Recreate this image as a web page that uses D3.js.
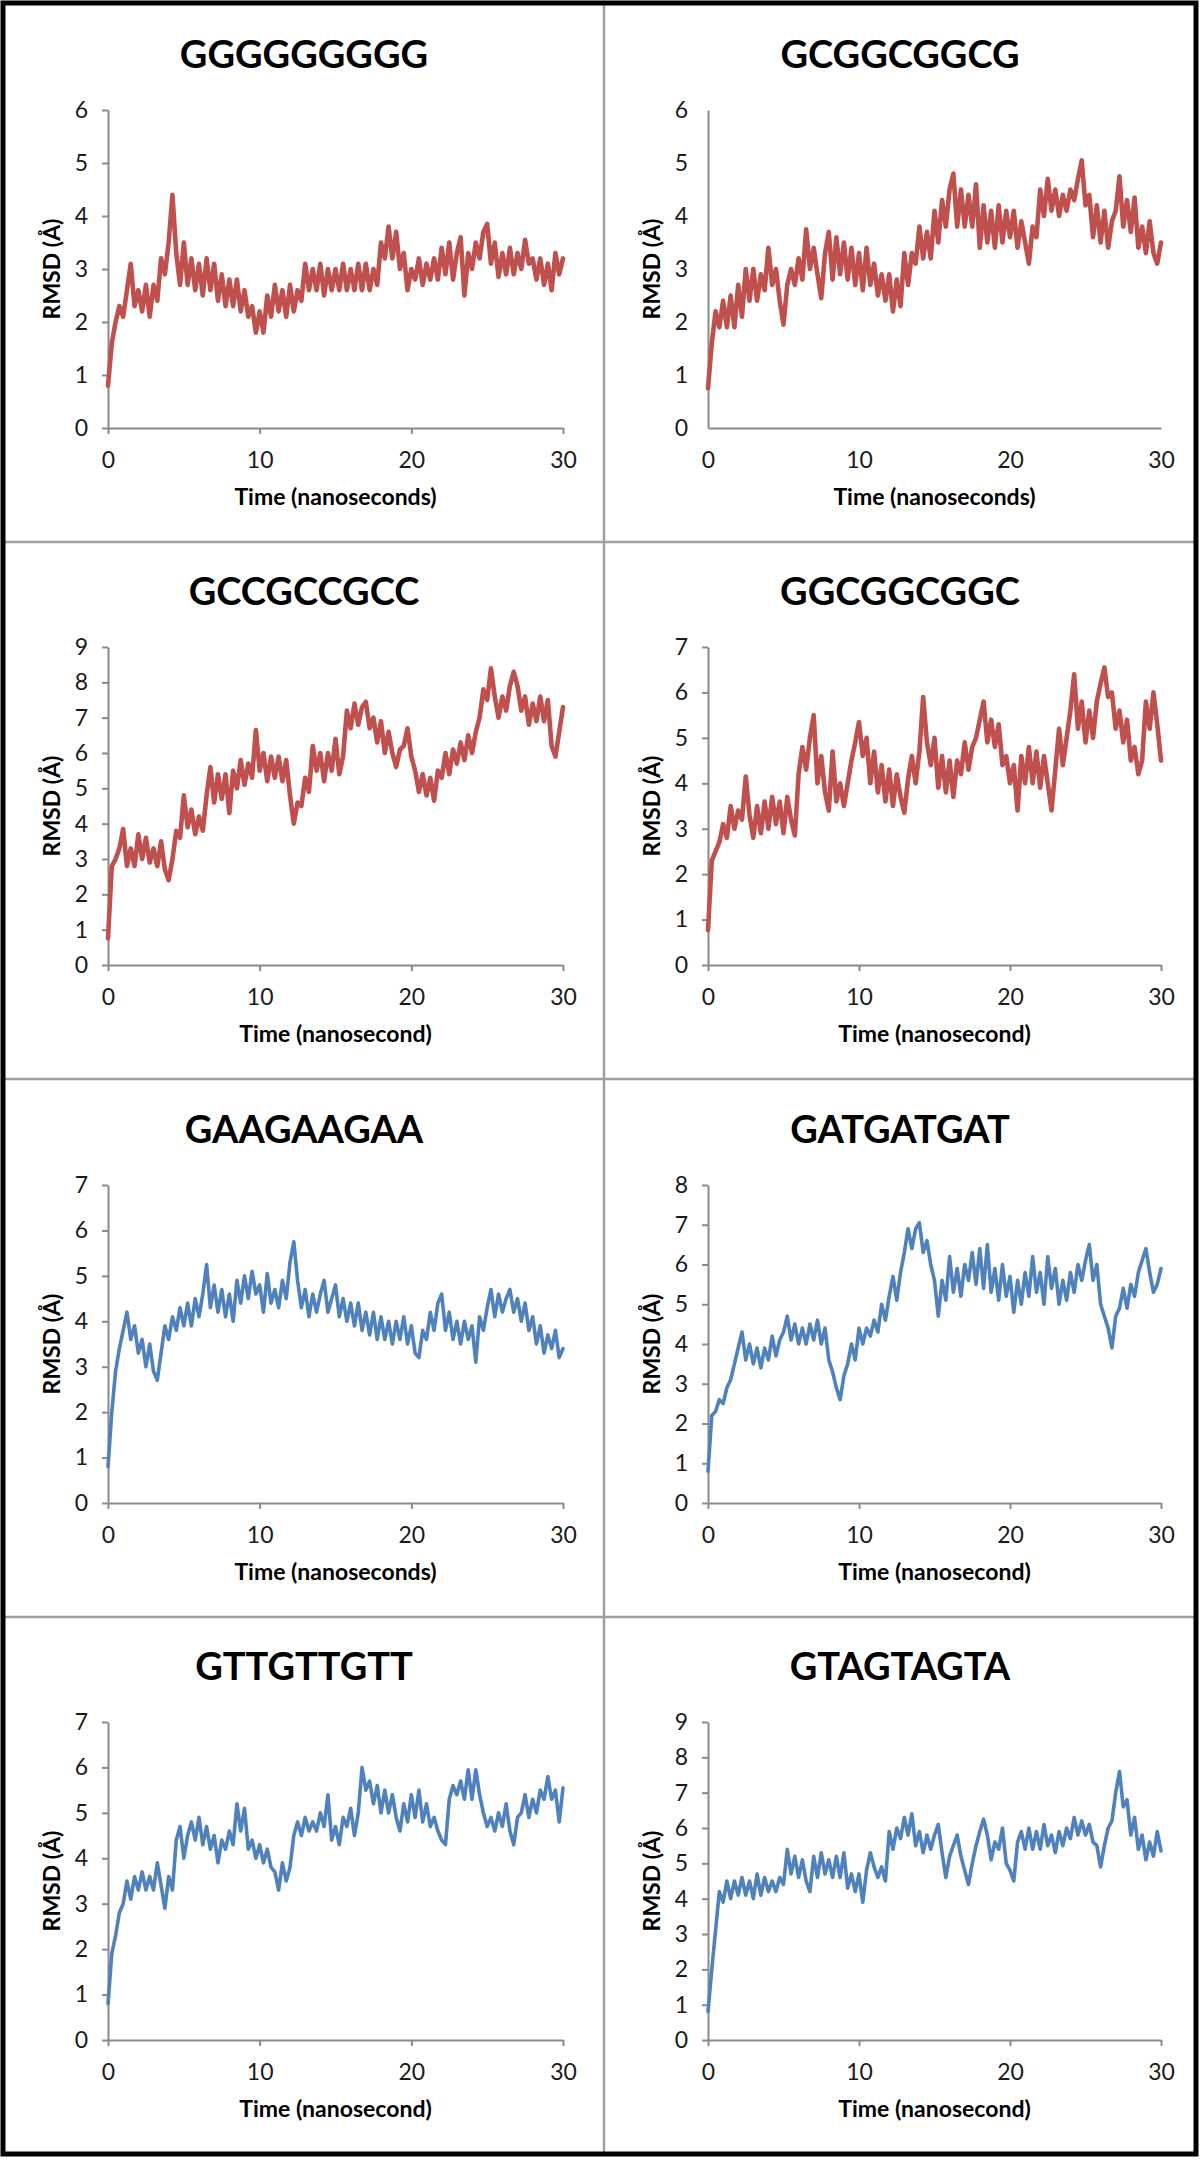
<!DOCTYPE html>
<html><head><meta charset="utf-8">
<script src="https://cdn.jsdelivr.net/npm/d3@7"></script>
<style>body{margin:0;background:#fff}svg{display:block}</style>
</head><body>
<svg id="chart" width="1200" height="2160"></svg>
<script>
// ---------------- DATA ----------------
const panelTitles = ["GGGGGGGGG","GCGGCGGCG","GCCGCCGCC","GGCGGCGGC","GAAGAAGAA","GATGATGAT","GTTGTTGTT","GTAGTAGTA"];
const xTitles = ["Time (nanoseconds)","Time (nanoseconds)","Time (nanosecond)","Time (nanosecond)","Time (nanoseconds)","Time (nanosecond)","Time (nanosecond)","Time (nanosecond)"];
const yTitle = "RMSD (Å)";
const yMax = [6,6,9,7,7,8,7,9];
const xMax = 30;
const xTickValues = [0,10,20,30];
const seriesColor = ["red","red","red","red","blue","blue","blue","blue"];
const panelHasTicks = [true,false,true,true,true,true,true,true];

// RMSD values sampled every 0.25 ns, t = 0 .. 30
const rmsdGGGGGGGGG = [0.8,1.6,2.0,2.3,2.1,2.6,3.1,2.3,2.6,2.2,2.7,2.1,2.7,2.4,3.2,2.9,3.5,4.4,3.3,2.7,3.5,2.7,3.2,2.6,3.1,2.5,3.2,2.6,3.1,2.4,2.9,2.3,2.8,2.3,2.8,2.2,2.6,2.1,2.3,1.8,2.2,1.8,2.5,2.1,2.7,2.2,2.6,2.1,2.7,2.2,2.6,2.4,3.1,2.6,3.0,2.6,3.1,2.5,3.0,2.6,3.0,2.6,3.1,2.6,3.0,2.6,3.1,2.6,3.1,2.6,3.0,2.7,3.5,3.2,3.8,3.2,3.7,3.0,3.3,2.6,3.0,2.8,3.2,2.7,3.1,2.8,3.2,2.8,3.4,2.9,3.5,2.8,3.3,3.6,2.5,3.3,3.0,3.5,3.2,3.7,3.85,3.1,3.5,2.85,3.3,2.9,3.4,2.9,3.3,3.0,3.55,3.1,3.2,2.8,3.2,2.7,3.1,2.6,3.3,2.9,3.2];
const rmsdGCGGCGGCG = [0.75,1.6,2.2,1.9,2.4,1.9,2.5,1.9,2.7,2.1,3.0,2.4,3.0,2.4,2.9,2.6,3.4,2.7,3.0,2.4,1.95,2.7,3.0,2.7,3.2,2.8,3.75,3.0,3.4,2.9,2.45,3.3,3.7,2.8,3.6,2.9,3.5,2.8,3.4,2.7,3.3,2.6,3.4,2.7,3.1,2.5,2.9,2.4,2.9,2.2,2.8,2.3,3.3,2.7,3.3,3.1,3.8,3.2,3.7,3.2,4.1,3.5,4.3,3.8,4.5,4.8,3.8,4.5,3.8,4.4,3.8,4.6,3.4,4.2,3.5,4.1,3.4,4.2,3.5,4.1,3.6,4.1,3.4,3.9,3.5,3.1,3.8,3.6,4.5,4.0,4.7,4.1,4.5,4.0,4.4,4.1,4.5,4.3,4.7,5.05,4.2,4.4,3.6,4.2,3.5,4.1,3.4,3.9,4.1,4.75,3.8,4.3,3.7,4.35,3.4,3.8,3.3,3.9,3.3,3.1,3.5];
const rmsdGCCGCCGCC = [0.75,2.8,3.0,3.3,3.85,2.8,3.3,2.8,3.7,3.0,3.6,2.9,3.3,2.8,3.5,2.7,2.4,3.0,3.8,3.6,4.8,3.9,4.4,3.7,4.2,3.8,4.8,5.6,4.6,5.4,4.7,5.4,4.3,5.5,5.0,5.8,5.1,5.7,5.3,6.65,5.5,6.0,5.2,5.9,5.3,5.9,5.2,5.8,4.8,4.0,4.6,4.5,5.3,4.9,6.2,5.5,6.0,5.2,6.0,5.5,6.4,5.4,5.9,7.2,6.7,7.4,6.8,7.3,7.45,6.7,7.0,6.3,6.9,6.0,6.6,6.0,5.6,6.1,6.2,6.7,5.9,5.5,4.9,5.4,4.8,5.3,4.65,5.5,5.3,6.0,5.4,6.1,5.7,6.3,5.8,6.5,6.0,6.6,7.0,7.8,7.5,8.4,7.6,7.0,7.6,7.2,7.9,8.3,7.9,7.2,7.6,6.8,7.4,6.9,7.6,6.9,7.5,6.2,5.9,6.6,7.3];
const rmsdGGCGGCGGC = [0.77,2.3,2.5,2.7,3.1,2.8,3.5,3.0,3.4,3.2,4.15,3.3,2.8,3.5,2.9,3.6,3.0,3.7,3.1,3.6,2.9,3.7,3.2,2.85,4.2,4.8,4.3,5.0,5.5,4.0,4.6,3.8,3.4,4.7,3.6,4.0,3.5,4.0,4.5,4.9,5.35,4.6,5.0,4.0,4.7,3.8,4.4,3.6,4.3,3.5,4.2,3.7,3.35,4.1,4.6,4.0,4.7,5.9,4.9,4.4,5.0,3.9,4.6,3.8,4.5,3.7,4.5,4.2,4.9,4.3,4.8,5.0,5.4,5.8,4.9,5.4,4.8,5.3,4.4,4.6,4.0,4.4,3.4,4.6,4.0,4.8,4.0,4.7,3.9,4.6,4.0,3.4,4.3,5.2,4.4,5.0,5.6,6.4,5.2,5.8,4.9,5.6,5.0,5.8,6.2,6.55,5.9,6.0,5.2,5.6,4.9,5.4,4.5,4.8,4.2,4.5,5.8,5.2,6.0,5.3,4.5];
const rmsdGAAGAAGAA = [0.8,2.0,2.9,3.4,3.8,4.2,3.6,3.9,3.3,3.6,3.0,3.5,2.9,2.7,3.3,3.9,3.6,4.1,3.8,4.3,3.9,4.4,3.9,4.5,4.1,4.6,5.25,4.3,4.8,4.2,4.7,4.1,4.6,4.0,4.9,4.4,5.0,4.5,5.1,4.6,4.8,4.2,5.05,4.4,4.7,4.3,4.9,4.5,5.3,5.75,4.9,4.3,4.7,4.1,4.6,4.2,4.6,4.9,4.2,4.5,4.8,4.1,4.5,4.0,4.4,3.9,4.4,3.8,4.2,3.7,4.2,3.6,4.1,3.6,4.0,3.5,4.0,3.6,4.1,3.5,3.9,3.3,3.2,3.8,3.6,4.2,3.8,4.4,4.6,3.8,4.2,3.6,4.0,3.5,4.0,3.6,3.9,3.1,4.1,3.8,4.3,4.7,4.1,4.6,4.2,4.5,4.7,4.2,4.5,4.0,4.4,3.8,4.1,3.5,3.9,3.3,3.7,3.4,3.8,3.2,3.4];
const rmsdGATGATGAT = [0.8,2.2,2.3,2.6,2.5,2.9,3.1,3.5,3.9,4.3,3.6,4.0,3.5,3.9,3.4,3.9,3.6,4.2,3.7,4.1,4.3,4.7,4.1,4.5,4.0,4.4,4.0,4.5,4.1,4.6,4.0,4.4,3.6,3.3,2.9,2.6,3.2,3.5,4.0,3.6,4.4,4.0,4.4,4.2,4.6,4.3,5.0,4.6,5.2,5.7,5.1,5.8,6.3,6.9,6.4,6.9,7.05,6.3,6.6,6.0,5.6,4.7,5.6,5.1,6.2,5.3,5.9,5.2,6.0,5.6,6.3,5.5,6.4,5.4,6.5,5.3,5.9,5.1,6.0,5.2,5.7,4.8,5.6,5.0,5.8,5.2,6.2,5.3,5.8,5.0,6.2,5.4,5.9,5.0,5.6,5.1,5.8,5.3,6.0,5.6,6.1,6.5,5.6,6.0,5.0,4.7,4.4,3.9,4.7,4.9,5.4,4.9,5.5,5.2,5.8,6.1,6.4,5.8,5.3,5.5,5.9];
const rmsdGTTGTTGTT = [0.8,1.9,2.3,2.8,3.0,3.5,3.1,3.6,3.3,3.7,3.3,3.6,3.3,3.9,3.4,2.9,3.6,3.3,4.4,4.7,4.0,4.5,4.8,4.4,4.9,4.3,4.7,4.2,4.5,3.9,4.4,4.2,4.6,4.3,5.2,4.6,5.1,4.2,4.4,4.0,4.3,3.9,4.2,3.8,3.7,3.3,3.9,3.5,3.8,4.5,4.8,4.5,4.9,4.6,4.8,4.6,5.0,4.7,5.4,4.4,4.7,4.3,4.9,4.7,5.1,4.5,5.0,6.0,5.5,5.7,5.2,5.6,5.0,5.5,5.0,5.4,4.9,4.6,5.2,4.8,5.4,4.9,5.5,4.8,5.2,4.7,4.9,4.6,4.4,4.3,5.3,5.6,5.4,5.7,5.3,5.95,5.3,5.95,5.4,5.0,4.7,4.9,4.6,5.0,4.7,5.2,4.6,4.3,4.9,5.0,5.4,4.9,5.3,5.0,5.5,5.3,5.8,5.3,5.5,4.8,5.55];
const rmsdGTAGTAGTA = [0.8,2.0,3.1,4.2,3.9,4.5,4.0,4.5,4.1,4.6,4.1,4.5,4.0,4.7,4.1,4.6,4.2,4.5,4.2,4.6,4.4,5.4,4.7,5.2,4.6,5.1,4.5,4.2,5.2,4.6,5.3,4.7,5.1,4.6,5.2,4.6,5.3,4.3,4.7,4.2,4.7,3.9,4.8,5.3,4.9,4.6,4.9,4.5,5.9,5.4,6.0,5.7,6.3,5.8,6.4,5.5,5.9,5.3,5.8,5.4,5.8,6.1,5.3,4.6,5.2,5.5,5.8,5.2,4.8,4.4,5.0,5.5,5.9,6.25,5.8,5.1,5.6,5.4,6.0,5.0,4.8,4.5,5.6,5.9,5.4,6.0,5.4,5.9,5.4,6.1,5.5,5.8,5.3,5.9,5.5,6.0,5.7,6.3,5.8,6.2,5.8,6.1,5.6,5.5,4.9,5.5,6.0,6.2,7.0,7.6,6.6,6.8,5.8,6.3,5.4,5.8,5.1,5.6,5.2,5.9,5.35];

const allSeries = [rmsdGGGGGGGGG,rmsdGCGGCGGCG,rmsdGCCGCCGCC,rmsdGGCGGCGGC,rmsdGAAGAAGAA,rmsdGATGATGAT,rmsdGTTGTTGTT,rmsdGTAGTAGTA];

// ---------------- DRAWING ----------------
const palette = {red:"#c0504d", blue:"#4f81bd"};
const FONT = "Lato, 'Open Sans', 'DejaVu Sans', sans-serif";
const svg = d3.select("#chart");
svg.append("rect").attr("width",1200).attr("height",2160).attr("fill","#fff");

const rowTops = [110,647,1185,1722];
const plotH = 318;
const colX = [[108,563],[708,1161]];
const colCenter = [304,900];

allSeries.forEach((vals,i)=>{
  const r = Math.floor(i/2), c = i%2;
  const top = rowTops[r], bottom = top+plotH;
  const x = d3.scaleLinear().domain([0,xMax]).range(colX[c]);
  const y = d3.scaleLinear().domain([0,yMax[i]]).range([bottom,top]);
  const g = svg.append("g");
  const tick = panelHasTicks[i] ? 6 : 0;

  // title
  g.append("text").attr("x",colCenter[c]).attr("y",top-42)
    .attr("text-anchor","middle").attr("font-family",FONT).attr("font-weight","700")
    .attr("font-size",38).attr("fill","#000").text(panelTitles[i]);

  // axes
  const ya = g.append("g").attr("transform",`translate(${colX[c][0]},0)`)
    .call(d3.axisLeft(y).tickValues(d3.range(0,yMax[i]+1)).tickFormat(d3.format("d"))
      .tickSizeInner(tick).tickSizeOuter(0).tickPadding(20-tick));
  const xa = g.append("g").attr("transform",`translate(0,${bottom})`)
    .call(d3.axisBottom(x).tickValues(xTickValues).tickFormat(d3.format("d"))
      .tickSizeInner(tick).tickSizeOuter(0).tickPadding(24-tick));
  [ya,xa].forEach(a=>{
    a.select(".domain").attr("stroke","#8a8a8a").attr("stroke-width",2);
    a.selectAll(".tick line").attr("stroke","#8a8a8a").attr("stroke-width",2);
    a.selectAll(".tick text").attr("font-family",FONT).attr("font-size",23).attr("fill","#1a1a1a");
  });

  // line
  const line = d3.line().x((d,k)=>x(k*xMax/(vals.length-1))).y(d=>y(d));
  g.append("path").datum(vals).attr("d",line).attr("fill","none")
    .attr("stroke",palette[seriesColor[i]])
    .attr("stroke-width",seriesColor[i]==="red"?4.6:3.6)
    .attr("stroke-linejoin","round").attr("stroke-linecap","round");

  // axis titles
  g.append("text").attr("x",(colX[c][0]+colX[c][1])/2).attr("y",bottom+77)
    .attr("text-anchor","middle").attr("font-family",FONT).attr("font-weight","700")
    .attr("font-size",23).attr("fill","#000").text(xTitles[i]);
  g.append("text").attr("transform",`translate(${colX[c][0]-56},${(top+bottom)/2}) rotate(-90)`)
    .attr("text-anchor","middle").attr("dy","0.35em").attr("font-family",FONT).attr("font-weight","700")
    .attr("font-size",23).attr("fill","#000").text(yTitle);
});

// dividers and frame
const frame = svg.append("g");
[542,1079,1617].forEach(yy=>frame.append("line").attr("x1",3).attr("x2",1197).attr("y1",yy).attr("y2",yy)
  .attr("stroke","#a0a0a0").attr("stroke-width",2.5));
frame.append("line").attr("x1",604).attr("x2",604).attr("y1",3).attr("y2",2155)
  .attr("stroke","#a0a0a0").attr("stroke-width",2.5);
frame.append("rect").attr("x",3).attr("y",3).attr("width",1193).attr("height",2151)
  .attr("fill","none").attr("stroke","#000").attr("stroke-width",5);
</script>
</body></html>
